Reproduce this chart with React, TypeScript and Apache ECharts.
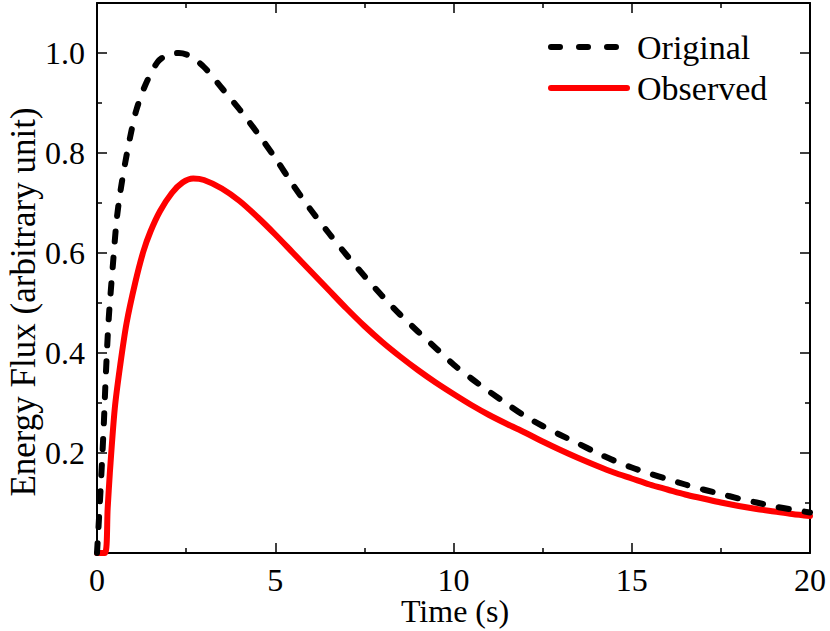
import React, { useEffect, useRef } from "react";
import * as echarts from "echarts";

const originalT = [0, 0.08, 0.18, 0.25, 0.33, 0.45, 0.55, 0.66, 0.79, 0.93, 1.1, 1.35, 1.7, 2.0, 2.3, 2.6, 3.0, 3.5, 4.0, 4.5, 5.0, 5.5, 6.0, 6.5, 7.0, 7.5, 8.0, 8.5, 9.0, 9.5, 10.0, 10.5, 11.0, 11.5, 12.0, 12.5, 13.0, 13.5, 14.0, 14.5, 15.0, 15.5, 16.0, 16.5, 17.0, 17.5, 18.0, 18.5, 19.0, 19.5, 20.0];
const originalV = [0, 0.1, 0.24, 0.36, 0.47, 0.58, 0.665, 0.725, 0.78, 0.832, 0.885, 0.935, 0.982, 0.997, 1.0, 0.994, 0.972, 0.93, 0.887, 0.84, 0.79, 0.736, 0.686, 0.64, 0.596, 0.554, 0.514, 0.477, 0.443, 0.41, 0.377, 0.349, 0.323, 0.298, 0.274, 0.254, 0.236, 0.219, 0.201, 0.185, 0.171, 0.159, 0.148, 0.137, 0.127, 0.118, 0.109, 0.101, 0.093, 0.087, 0.081];

const observedT = [0, 0.22, 0.3, 0.36, 0.5, 0.65, 0.83, 1.07, 1.3, 1.5, 1.77, 2.1, 2.4, 2.7, 3.0, 3.5, 4.0, 4.5, 5.0, 5.5, 6.0, 6.5, 7.0, 7.5, 8.0, 8.5, 9.0, 9.5, 10.0, 10.5, 11.0, 11.5, 12.0, 12.5, 13.0, 13.5, 14.0, 14.5, 15.0, 15.5, 16.0, 16.5, 17.0, 17.5, 18.0, 18.5, 19.0, 19.5, 20.0];
const observedV = [0, 0, 0.09, 0.16, 0.29, 0.375, 0.46, 0.54, 0.603, 0.643, 0.684, 0.72, 0.741, 0.749, 0.746, 0.729, 0.704, 0.672, 0.637, 0.6, 0.563, 0.526, 0.489, 0.454, 0.422, 0.393, 0.366, 0.341, 0.318, 0.296, 0.276, 0.258, 0.241, 0.223, 0.206, 0.19, 0.175, 0.161, 0.149, 0.137, 0.127, 0.117, 0.109, 0.101, 0.094, 0.088, 0.083, 0.078, 0.074];

const seriesNames = ["Original", "Observed"];
const xTitle = "Time (s)";
const yTitle = "Energy Flux (arbitrary unit)";

const FONT = "'Liberation Serif', 'Times New Roman', serif";
const TICK_FS = 32;
const XNAME_FS = 32;
const YNAME_FS = 35;
const LEGEND_FS = 34;

export default function App() {
  const ref = useRef<HTMLDivElement>(null);
  useEffect(() => {
    if (!ref.current) return;
    const chart = echarts.init(ref.current, null, { renderer: "svg" });
    const axisLine = { show: true, onZero: false, lineStyle: { color: "#000", width: 2 } };
    const majorTick = { show: true, inside: true, length: 10, lineStyle: { color: "#000", width: 1.5 } };
    const minorTick = { show: true, splitNumber: 2, length: 5, lineStyle: { color: "#000", width: 1.5 } };
    const option: any = {
      animation: false,
      backgroundColor: "#fff",
      textStyle: { fontFamily: FONT },
      grid: { left: 97, right: 20, top: 3, bottom: 78, containLabel: false, outerBoundsMode: "none" },
      graphic: [
        {
          type: "text",
          x: 23,
          y: 302,
          rotation: Math.PI / 2,
          style: { text: yTitle, fontFamily: FONT, fontSize: YNAME_FS, fill: "#000", align: "center", verticalAlign: "middle" },
          z: 10,
        },
        {
          type: "text",
          x: 455,
          y: 611,
          style: { text: xTitle, fontFamily: FONT, fontSize: XNAME_FS, lineHeight: 26, fill: "#000", align: "center", verticalAlign: "middle" },
          z: 10,
        },
        {
          type: "line",
          shape: { x1: 551, y1: 47, x2: 625, y2: 47 },
          style: { stroke: "#000", lineWidth: 6, lineDash: [9, 19], lineCap: "round" },
          z: 10,
        },
        {
          type: "text",
          x: 637,
          y: 47,
          style: { text: seriesNames[0], fontFamily: FONT, fontSize: LEGEND_FS, fill: "#000", verticalAlign: "middle", align: "left" },
          z: 10,
        },
        {
          type: "line",
          shape: { x1: 551, y1: 88, x2: 627, y2: 88 },
          style: { stroke: "#ff0000", lineWidth: 6, lineCap: "round" },
          z: 10,
        },
        {
          type: "text",
          x: 637,
          y: 88,
          style: { text: seriesNames[1], fontFamily: FONT, fontSize: LEGEND_FS, fill: "#000", verticalAlign: "middle", align: "left" },
          z: 10,
        },
      ],
      xAxis: [
        {
          type: "value",
          min: 0,
          max: 20,
          interval: 5,
          position: "bottom",
          axisLine,
          axisTick: majorTick,
          minorTick: { ...minorTick },
          splitLine: { show: false },
          axisLabel: { fontFamily: FONT, fontSize: TICK_FS, lineHeight: 28, color: "#000", margin: 13 },
        },
        {
          type: "value",
          min: 0,
          max: 20,
          interval: 5,
          position: "top",
          axisLine,
          axisTick: majorTick,
          minorTick: { ...minorTick },
          splitLine: { show: false },
          axisLabel: { show: false },
        },
      ],
      yAxis: [
        {
          type: "value",
          min: 0,
          max: 1.1,
          interval: 0.2,
          position: "left",
          axisLine,
          axisTick: majorTick,
          minorTick: { ...minorTick },
          splitLine: { show: false },
          axisLabel: {
            fontFamily: FONT,
            fontSize: TICK_FS,
            color: "#000",
            margin: 12,
            formatter: (v: number) => (v < 0.05 || v > 1.05 ? "" : v.toFixed(1)),
          },
        },
        {
          type: "value",
          min: 0,
          max: 1.1,
          interval: 0.2,
          position: "right",
          axisLine,
          axisTick: majorTick,
          minorTick: { ...minorTick },
          splitLine: { show: false },
          axisLabel: { show: false },
        },
      ],
      series: [
        {
          name: seriesNames[0],
          type: "line",
          data: originalT.map((t, i) => [t, originalV[i]]),
          showSymbol: false,
          symbol: "none",
          smooth: 0.3,
          color: "#000",
          lineStyle: { color: "#000", width: 6, type: [10, 16], cap: "round", join: "round" },
          z: 3,
        },
        {
          name: seriesNames[1],
          type: "line",
          data: observedT.map((t, i) => [t, observedV[i]]),
          showSymbol: false,
          symbol: "none",
          smooth: 0.3,
          color: "#ff0000",
          lineStyle: { color: "#ff0000", width: 6, type: "solid", cap: "round", join: "round" },
          z: 2,
        },
      ],
    };
    chart.setOption(option);
    return () => chart.dispose();
  }, []);
  return <div ref={ref} style={{ width: 830, height: 631, position: "absolute", left: 0, top: 0 }} />;
}
